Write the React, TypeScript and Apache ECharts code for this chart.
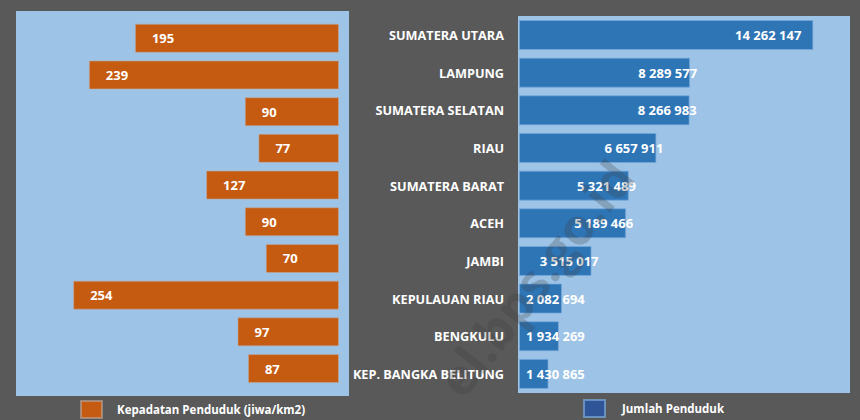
import React, { useEffect, useRef } from "react";
import * as echarts from "echarts";

const provinces = [
  "SUMATERA UTARA",
  "LAMPUNG",
  "SUMATERA SELATAN",
  "RIAU",
  "SUMATERA BARAT",
  "ACEH",
  "JAMBI",
  "KEPULAUAN RIAU",
  "BENGKULU",
  "KEP. BANGKA BELITUNG",
];
const density = [195, 239, 90, 77, 127, 90, 70, 254, 97, 87];
const population = [
  14262147, 8289577, 8266983, 6657911, 5321489, 5189466, 3515017, 2082694, 1934269, 1430865,
];
const densityName = "Kepadatan Penduduk (jiwa/km2)";
const populationName = "Jumlah Penduduk";

const FONT = "'Open Sans', 'Noto Sans', sans-serif";
const fmt = (v: number) => String(v).replace(/\B(?=(\d{3})+(?!\d))/g, " ");

export default function App() {
  const ref = useRef<HTMLDivElement>(null);
  useEffect(() => {
    if (!ref.current) return;
    const chart = echarts.init(ref.current, null, { renderer: "svg" });
    const maxPop = Math.max(...population);
    const popData = population.map((v) => {
      let label: any;
      if (v === maxPop) label = { position: "insideRight", offset: [-7, 0] };
      else if (v < 3000000) label = { position: "insideLeft", distance: 7 };
      else label = { position: "insideRight", offset: [12, 0] };
      return { value: v, label };
    });
    chart.setOption({
      animation: false,
      backgroundColor: "#595959",
      textStyle: { fontFamily: FONT },
      grid: [
        { left: 25, width: 314, top: 19.9, height: 367 },
        { left: 519, width: 330.2, top: 16.2, height: 376.5 },
      ],
      xAxis: [
        { gridIndex: 0, type: "value", min: 0, max: 300, inverse: true, show: false },
        { gridIndex: 1, type: "value", min: 0, max: 16000000, show: false },
      ],
      yAxis: [
        { gridIndex: 0, type: "category", data: provinces, inverse: true, show: false },
        {
          gridIndex: 1,
          type: "category",
          data: provinces,
          inverse: true,
          axisLine: { show: false },
          axisTick: { show: false },
          splitLine: { show: false },
          axisLabel: {
            color: "#ffffff",
            fontWeight: "bold",
            fontSize: 12.7,
            fontFamily: FONT,
            margin: 15,
          },
        },
      ],
      legend: [
        {
          left: 80,
          top: 400,
          padding: 0,
          itemWidth: 21,
          itemHeight: 17,
          icon: "rect",
          data: [{ name: densityName, itemStyle: { color: "#C55A11" } }],
          textStyle: { color: "#ffffff", fontWeight: "bold", fontSize: 11.5, fontFamily: FONT, padding: [0, 0, 0, 10] },
        },
        {
          left: 583,
          top: 399,
          padding: 0,
          itemWidth: 21,
          itemHeight: 17,
          icon: "rect",
          data: [{ name: populationName, itemStyle: { color: "#2F5597" } }],
          textStyle: { color: "#ffffff", fontWeight: "bold", fontSize: 11.5, fontFamily: FONT, padding: [0, 0, 0, 12] },
        },
      ],
      graphic: [
        {
          type: "rect",
          z: -10,
          shape: { x: 16, y: 11, width: 333, height: 385 },
          style: { fill: "#9DC3E6" },
        },
        {
          type: "rect",
          z: -10,
          shape: { x: 518, y: 16, width: 332, height: 377 },
          style: { fill: "#9DC3E6" },
        },
        {
          type: "text",
          z: 100,
          x: 535,
          y: 278,
          rotation: (52 * Math.PI) / 180,
          style: {
            text: "el.bps.go.id",
            fontSize: 50,
            fontWeight: "bold",
            fontFamily: FONT,
            fill: "rgba(60,60,60,0.25)",
            align: "center",
            verticalAlign: "middle",
          },
        },
      ],
      series: [
        {
          name: densityName,
          type: "bar",
          xAxisIndex: 0,
          yAxisIndex: 0,
          data: density,
          barWidth: 29,
          itemStyle: { color: "#C55A11", borderColor: "rgba(190,170,160,0.6)", borderWidth: 1 },
          label: {
            show: true,
            position: "insideLeft",
            distance: 17,
            color: "#ffffff",
            fontWeight: "bold",
            fontSize: 13,
            fontFamily: FONT,
          },
        },
        {
          name: populationName,
          type: "bar",
          xAxisIndex: 1,
          yAxisIndex: 1,
          data: popData,
          barWidth: 30,
          itemStyle: { color: "#2E75B6", borderColor: "rgba(120,170,220,0.7)", borderWidth: 1 },
          label: {
            show: true,
            color: "#ffffff",
            fontWeight: "bold",
            fontSize: 13,
            fontFamily: FONT,
            formatter: (p: any) => fmt(p.value),
          },
        },
      ],
    });
    return () => chart.dispose();
  }, []);
  return (
    <div
      ref={ref}
      style={{ position: "fixed", left: 0, top: 0, width: 860, height: 420 }}
    />
  );
}
